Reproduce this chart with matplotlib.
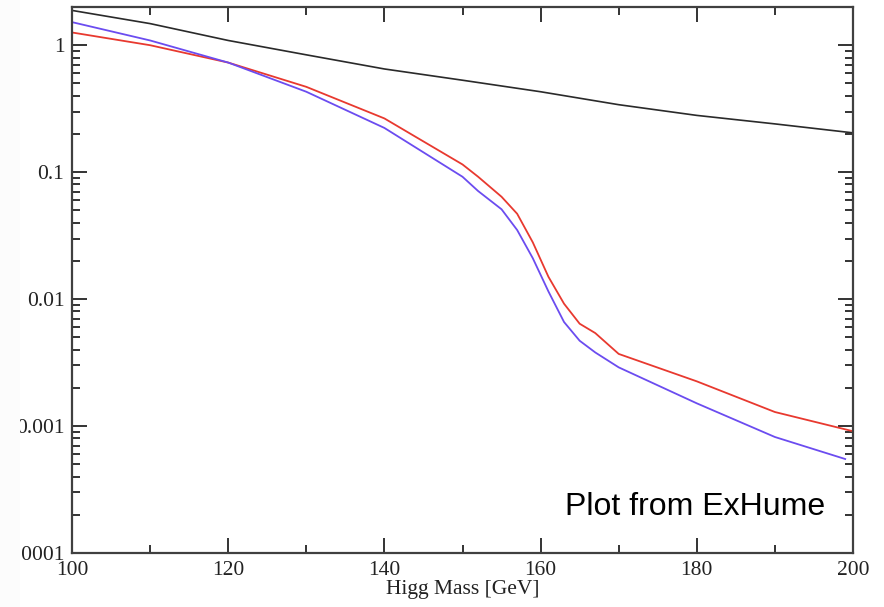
import numpy as np
import matplotlib
matplotlib.use('Agg')
import matplotlib.pyplot as plt
from matplotlib import ticker
from matplotlib.patches import Rectangle

# curves
mass_black = [100, 110, 120, 130, 140, 150, 160, 170, 180, 190, 200]
xs_black = [1.88, 1.48, 1.09, 0.84, 0.65, 0.53, 0.43, 0.34, 0.28, 0.24, 0.204]

mass_red = [100, 110, 120, 130, 140, 150, 152, 155, 157, 159, 161, 163, 165, 167, 170, 180, 190, 200]
xs_red = [1.26, 1.0, 0.73, 0.47, 0.265, 0.115, 0.092, 0.064, 0.047, 0.028, 0.015, 0.0092,
          0.0064, 0.0054, 0.0037, 0.00225, 0.00129, 0.00091]

mass_blue = [100, 110, 120, 130, 140, 150, 152, 155, 157, 159, 161, 163, 165, 167, 170, 180, 190, 199]
xs_blue = [1.52, 1.09, 0.73, 0.43, 0.223, 0.092, 0.071, 0.051, 0.035, 0.021, 0.0115, 0.0066,
           0.0047, 0.0038, 0.0029, 0.00151, 0.00082, 0.00055]

plt.rcParams['font.family'] = 'Liberation Serif'

fig = plt.figure(figsize=(8.84, 6.07), dpi=100)
ax = fig.add_axes([72/884., 1 - 553/607., 781/884., 546/607.])

ax.plot(mass_black, xs_black, color='#2a2a2a', lw=1.2)
ax.plot(mass_red, xs_red, color='#e8392f', lw=1.3)
ax.plot(mass_blue, xs_blue, color='#6b4cf0', lw=1.3)

ax.set_yscale('log')
ax.set_xlim(100, 200)
ax.set_ylim(0.0001, 2.0)

ax.xaxis.set_major_locator(ticker.MultipleLocator(20))
ax.xaxis.set_minor_locator(ticker.MultipleLocator(10))
ax.yaxis.set_major_locator(ticker.LogLocator(base=10))
ax.yaxis.set_minor_locator(ticker.LogLocator(base=10, subs=np.arange(2, 10)))
ax.yaxis.set_major_formatter(ticker.FuncFormatter(lambda v, p: '%g' % v))
ax.yaxis.set_minor_formatter(ticker.NullFormatter())

ax.tick_params(which='both', direction='in', top=True, right=True, width=1.4,
               color='#333333', labelsize=15.5, labelcolor='#222222')
ax.tick_params(which='major', length=11, pad=5.5)
ax.tick_params(which='minor', length=5.5)
for s in ax.spines.values():
    s.set_linewidth(1.6)
    s.set_color('#404040')

ax.set_xlabel('Higg Mass [GeV]', fontsize=15.5, color='#222222', labelpad=0)

ax.text(0.964, 0.084, 'Plot from ExHume', transform=ax.transAxes, ha='right', va='center',
        fontsize=23, family='Liberation Sans', color='black')

# the original picture is cropped on the left, cutting into the y labels
fig.add_artist(Rectangle((0, 0), 20/884., 1, transform=fig.transFigure,
                         facecolor='#fcfcfc', edgecolor='none', zorder=10))

fig.savefig('out.png', dpi=100)
